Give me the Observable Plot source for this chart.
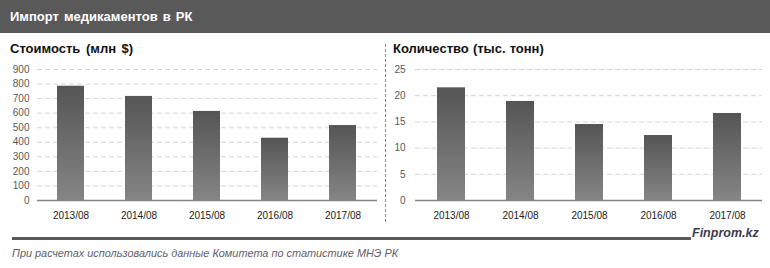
<!DOCTYPE html>
<html><head><meta charset="utf-8">
<script src="https://cdn.jsdelivr.net/npm/d3@7"></script>
<script src="https://cdn.jsdelivr.net/npm/@observablehq/plot@0.6"></script>
<style>
body{margin:0;width:770px;height:268px;position:relative;overflow:hidden;background:#fff;font-family:"Liberation Sans",Arial,sans-serif}
#hdr{position:absolute;left:0;top:0;width:770px;height:33px;background:#595959;color:#fff;font-weight:bold;font-size:13px;line-height:34px;padding-left:10px;box-sizing:border-box;word-spacing:1.5px}
.sub{position:absolute;top:40px;font-weight:bold;font-size:13px;color:#111;line-height:18px;word-spacing:2px}
#chL{position:absolute;left:0;top:60px}
#chR{position:absolute;left:385px;top:60px}
#sep{position:absolute;left:385px;top:44px}
#fline{position:absolute;left:12px;top:237px;width:679px;height:2.5px;background:#595959}
#brand{position:absolute;left:692px;top:226px;font-weight:bold;font-style:italic;font-size:12.5px;color:#3c3c50;line-height:14px}
#cap{position:absolute;left:12px;top:247px;font-style:italic;font-size:10.9px;color:#5f5f6a;line-height:13px}
</style></head>
<body>
<div id="hdr">Импорт медикаментов в РК</div>
<div class="sub" style="left:10px">Стоимость (млн $)</div>
<div class="sub" style="left:393px;word-spacing:0.5px">Количество (тыс. тонн)</div>
<svg id="sep" width="2" height="180"><line x1="0.5" y1="0" x2="0.5" y2="180" stroke="#8a8a8a" stroke-dasharray="3,2"/></svg>
<div id="chL"></div>
<div id="chR"></div>
<div id="fline"></div>
<div id="brand">Finprom.kz</div>
<div id="cap">При расчетах использовались данные Комитета по статистике МНЭ РК</div>
<script>
const periods = ["2013/08","2014/08","2015/08","2016/08","2017/08"];
const costValues = [785, 715, 612, 428, 515];
const qtyValues = [21.5, 18.9, 14.5, 12.4, 16.6];
const costTicks = [0,100,200,300,400,500,600,700,800,900];
const qtyTicks = [0,5,10,15,20,25];

function gradDefs(id){
  return () => {
    const defs = document.createElementNS("http://www.w3.org/2000/svg","defs");
    defs.innerHTML = `<linearGradient id="${id}" x1="0" y1="0" x2="0" y2="1"><stop offset="0" stop-color="#555555"/><stop offset="1" stop-color="#858585"/></linearGradient>`;
    return defs;
  };
}

function chart(values, ticks, id, mL, mR, padY){
  const data = periods.map((p,i)=>({period:p, value:values[i]}));
  return Plot.plot({
    width:385, height:165, marginLeft:mL, marginRight:mR, marginTop:9, marginBottom:25,
    style:{fontFamily:"Liberation Sans, Arial, sans-serif", fontSize:"10px", background:"transparent", overflow:"visible"},
    x:{domain:periods, paddingInner:0.6, paddingOuter:0.3, align:0.5, label:null, axis:null},
    y:{domain:[ticks[0], ticks[ticks.length-1]], label:null, axis:null},
    marks:[
      gradDefs(id),
      Plot.gridY(ticks.filter(d=>d>0), {stroke:"#d4d4d4", strokeOpacity:1, strokeDasharray:"5,3"}),
      Plot.barY(data, {x:"period", y:"value", fill:`url(#${id})`}),
      Plot.ruleY([0], {stroke:"#858585", strokeWidth:1.5}),
      Plot.axisX({tickSize:0, tickPadding:11, fill:"#222", label:null}),
      Plot.axisY(ticks, {tickSize:0, tickPadding:padY, fill:"#595959", label:null})
    ]
  });
}

document.getElementById("chL").append(chart(costValues, costTicks, "gL", 37, 8, 8));
document.getElementById("chR").append(chart(qtyValues, qtyTicks, "gR", 30, 8, 10));
</script>
</body></html>
